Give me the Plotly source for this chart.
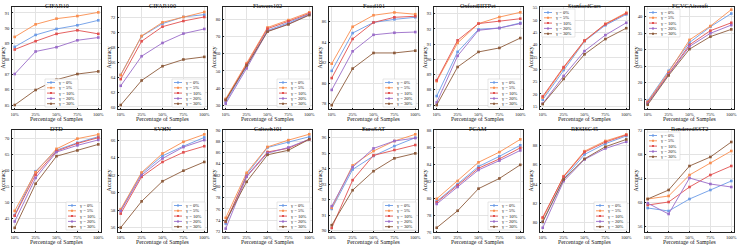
import plotly.graph_objects as go

W, H = 738, 246
x_labels = ["10%", "25%", "50%", "75%", "100%"]
gamma_labels = ["γ = 0%", "γ = 5%", "γ = 10%", "γ = 20%", "γ = 30%"]
colors = ["#6b9be6", "#f98d4e", "#e1504f", "#9a6cc8", "#8c5a3a"]
FONT = "Liberation Serif"

# series order: gamma 0%, 5%, 10%, 20%, 30%
cifar10 = [[88.79, 89.57, 89.96, 90.20, 90.52],
           [89.44, 90.26, 90.63, 90.80, 91.04],
           [88.62, 89.16, 89.64, 89.87, 89.64],
           [87.02, 88.49, 88.77, 89.22, 89.40],
           [85.00, 85.98, 86.65, 87.02, 87.19]]
cifar100 = [[64.32, 69.50, 71.20, 72.10, 72.40],
            [64.28, 69.54, 71.37, 72.09, 72.76],
            [63.74, 68.83, 70.79, 71.55, 72.09],
            [62.85, 66.82, 68.60, 69.86, 70.48],
            [60.26, 63.56, 65.48, 66.38, 66.73]]
flowers102 = [[32.0, 52.5, 73.5, 78.0, 83.0],
              [33.8, 54.5, 75.2, 79.5, 84.0],
              [33.0, 53.8, 74.5, 78.8, 83.4],
              [31.0, 51.5, 73.0, 77.3, 82.6],
              [33.2, 53.2, 72.8, 77.0, 82.4]]
food101 = [[81.2, 84.87, 85.9, 86.2, 86.4],
           [81.9, 85.48, 86.6, 86.87, 86.7],
           [80.5, 84.3, 85.9, 86.4, 86.5],
           [79.35, 83.1, 84.7, 84.9, 84.97],
           [77.87, 81.42, 82.94, 82.94, 83.16]]
pets = [[87.59, 90.49, 91.97, 92.06, 92.39],
        [88.57, 91.08, 92.35, 92.78, 93.09],
        [88.63, 91.25, 92.35, 92.52, 92.67],
        [87.17, 90.23, 91.91, 92.06, 92.35],
        [87.00, 89.50, 90.49, 90.75, 91.40]]
cars = [[17.7, 29.7, 41.4, 47.9, 52.3],
        [18.5, 30.5, 41.5, 48.5, 53.0],
        [19.0, 30.9, 41.7, 48.3, 52.7],
        [16.1, 27.3, 37.4, 43.9, 48.9],
        [15.9, 26.1, 36.1, 42.3, 46.7]]
aircraft = [[14.5, 23.6, 32.2, 37.0, 41.0],
            [14.2, 23.2, 33.0, 37.2, 42.2],
            [13.9, 22.8, 31.5, 35.8, 38.2],
            [13.6, 22.5, 31.0, 35.0, 37.5],
            [13.3, 22.2, 30.2, 34.0, 36.2]]
dtd = [[46.1, 59.8, 66.4, 68.7, 70.6],
       [47.4, 59.5, 66.8, 70.0, 71.3],
       [45.9, 58.7, 66.1, 68.5, 70.3],
       [44.1, 57.7, 65.8, 67.9, 69.6],
       [42.1, 55.9, 64.5, 66.3, 68.2]]
svhn = [[58.0, 62.2, 64.2, 65.3, 66.3],
        [58.1, 62.3, 64.47, 65.8, 66.65],
        [57.6, 61.8, 63.5, 64.6, 65.3],
        [57.9, 62.0, 63.9, 65.2, 66.0],
        [56.0, 59.0, 61.3, 62.5, 63.5]]
caltech101 = [[73.4, 82.1, 86.9, 87.8, 88.8],
              [74.4, 82.4, 87.0, 88.2, 89.25],
              [73.7, 81.8, 86.1, 86.75, 88.36],
              [72.5, 81.7, 85.9, 86.9, 88.36],
              [73.8, 80.8, 85.6, 86.4, 88.36]]
eurosat = [[91.40, 93.95, 94.82, 95.46, 96.00],
           [91.47, 94.21, 95.14, 95.79, 96.22],
           [90.17, 93.26, 94.86, 95.21, 95.53],
           [91.58, 94.10, 95.31, 95.79, 95.98],
           [90.35, 92.61, 93.84, 94.67, 94.99]]
pcam = [[79.6, 81.6, 83.7, 84.9, 86.2],
        [79.9, 82.0, 84.2, 85.4, 86.9],
        [79.5, 81.5, 83.5, 84.6, 85.9],
        [79.3, 81.3, 83.3, 84.4, 85.6],
        [76.5, 78.5, 81.1, 82.3, 83.9]]
resisc45 = [[80.04, 84.52, 87.06, 88.18, 88.98],
            [80.42, 84.8, 87.4, 88.46, 89.14],
            [80.52, 84.74, 87.3, 88.34, 89.08],
            [79.44, 84.28, 86.54, 87.68, 88.38],
            [80.06, 84.46, 86.6, 87.86, 88.62]]
sst2 = [[59.0, 58.5, 60.5, 62.0, 63.5],
        [60.5, 61.0, 64.5, 66.5, 68.5],
        [59.5, 60.0, 62.5, 64.5, 66.0],
        [59.8, 58.0, 64.0, 63.0, 62.5],
        [60.5, 62.0, 66.0, 67.5, 70.0]]

# title, data, y range, tick0, dtick, legend corner
panels = [
    ("CIFAR10", cifar10, [84.74, 91.39], 85, 1, "cifar"),
    ("CIFAR100", cifar100, [59.73, 73.43], 60, 2, "lr"),
    ("Flowers102", flowers102, [27.9, 87.1], 30, 10, "lr"),
    ("Food101", food101, [77.5, 87.4], 78, 2, "lr"),
    ("OxfordIIITPet", pets, [86.74, 93.44], 87, 1, "lr"),
    ("StanfordCars", cars, [13.9, 55.3], 15, 5, "ul"),
    ("FGVCAircraft", aircraft, [12.0, 43.0], 15, 5, "ul"),
    ("DTD", dtd, [40.8, 72.7], 45, 5, "lr"),
    ("SVHN", svhn, [55.5, 67.15], 56, 2, "lr"),
    ("Caltech101", caltech101, [71.9, 90.0], 72, 2, "lr"),
    ("EuroSAT", eurosat, [89.91, 96.5], 90, 1, "lr"),
    ("PCAM", pcam, [76.0, 88.0], 76, 2, "lr"),
    ("RESISC45", resisc45, [79.0, 89.6], 80, 2, "lr"),
    ("RenderedSST2", sst2, [55.0, 72.0], 56, 4, "ul"),
]

lefts = [12, 118, 223, 329, 434, 540, 645]
pw = 89
rows_px = [(7, 109), (130, 232)]
title_top = [0, 123]

fig = go.Figure()
annotations = []
shapes = []


def px(x):
    return x / W


def py(y):
    return 1 - y / H


for i, (title, data, yr, t0, dt, corner) in enumerate(panels):
    r, c = divmod(i, 7)
    L = lefts[c]
    R = L + pw
    T, B = rows_px[r]
    xa = "xaxis" if i == 0 else f"xaxis{i+1}"
    ya = "yaxis" if i == 0 else f"yaxis{i+1}"
    xref = "x" if i == 0 else f"x{i+1}"
    yref = "y" if i == 0 else f"y{i+1}"
    for s in range(5):
        fig.add_trace(go.Scatter(
            x=x_labels, y=data[s], mode="lines+markers",
            line=dict(color=colors[s], width=0.9),
            marker=dict(symbol="square", size=2.6, color=colors[s]),
            name=gamma_labels[s], showlegend=False,
            xaxis=xref, yaxis=yref))
    fig.update_layout(**{
        xa: dict(domain=[px(L), px(R)], anchor=yref, type="category", automargin=False,
                 range=[-0.13, 4.13], showgrid=True, gridcolor="#e3e3e3",
                 gridwidth=0.6, showline=True, linecolor="#222", linewidth=0.7,
                 mirror=True, ticks="inside", ticklen=1.5, tickwidth=0.5,
                 tickcolor="#222", tickfont=dict(size=4.6, family=FONT, color="#222"),
                 ticklabelstandoff=1, zeroline=False),
        ya: dict(domain=[py(B), py(T)], anchor=xref, range=yr, tick0=t0, dtick=dt,
                 automargin=False,
                 showgrid=True, gridcolor="#e3e3e3", gridwidth=0.6, showline=True,
                 linecolor="#222", linewidth=0.7, mirror=True, ticks="inside",
                 ticklen=1.5, tickwidth=0.5, tickcolor="#222",
                 tickfont=dict(size=4.6, family=FONT, color="#222"),
                 ticklabelstandoff=1, zeroline=False),
    })
    annotations.append(dict(text=title, x=px((L + R) / 2), y=py(title_top[r]), xref="paper",
                            yref="paper", xanchor="center", yanchor="top",
                            showarrow=False, font=dict(size=6.2, family=FONT, color="#111")))
    annotations.append(dict(text="Percentage of Samples", x=px((L + R) / 2), y=py(B + 4.8),
                            xref="paper", yref="paper", xanchor="center", yanchor="top",
                            showarrow=False, font=dict(size=5.8, family=FONT, color="#111")))
    annotations.append(dict(text="Accuracy", x=px(L - 9.5), y=py((T + B) / 2), xref="paper",
                            yref="paper", xanchor="center", yanchor="middle", textangle=-90,
                            showarrow=False, font=dict(size=5.8, family=FONT, color="#111")))
    # manual legend
    bw, bh = 33, 28
    if corner == "lr":
        bx0, by0 = R - bw - 2, B - bh - 2
    elif corner == "ul":
        bx0, by0 = L + 2, T + 2
    else:
        bx0, by0 = L + 33, B - bh - 2
    shapes.append(dict(type="rect", xref="paper", yref="paper", x0=px(bx0), x1=px(bx0 + bw),
                       y0=py(by0 + bh), y1=py(by0), line=dict(color="#cccccc", width=0.5),
                       fillcolor="rgba(255,255,255,0.85)", layer="above"))
    for s in range(5):
        ly = by0 + 3.5 + s * 5.3
        shapes.append(dict(type="line", xref="paper", yref="paper", x0=px(bx0 + 2),
                           x1=px(bx0 + 10), y0=py(ly), y1=py(ly),
                           line=dict(color=colors[s], width=0.9), layer="above"))
        shapes.append(dict(type="rect", xref="paper", yref="paper", x0=px(bx0 + 5),
                           x1=px(bx0 + 7), y0=py(ly + 1), y1=py(ly - 1),
                           line=dict(width=0), fillcolor=colors[s], layer="above"))
        annotations.append(dict(text=gamma_labels[s], x=px(bx0 + 12), y=py(ly), xref="paper",
                                yref="paper", xanchor="left", yanchor="middle",
                                showarrow=False,
                                font=dict(size=4.6, family=FONT, color="#111")))

fig.update_layout(width=W, height=H, autosize=False, margin=dict(l=0, r=0, t=0, b=0, pad=0),
                  paper_bgcolor="white", plot_bgcolor="white",
                  annotations=annotations, shapes=shapes, showlegend=False,
                  font=dict(family=FONT))
fig.write_html("out.html", config={"displayModeBar": False},
               post_script="document.body.style.margin='0';document.body.style.overflow='hidden';")
